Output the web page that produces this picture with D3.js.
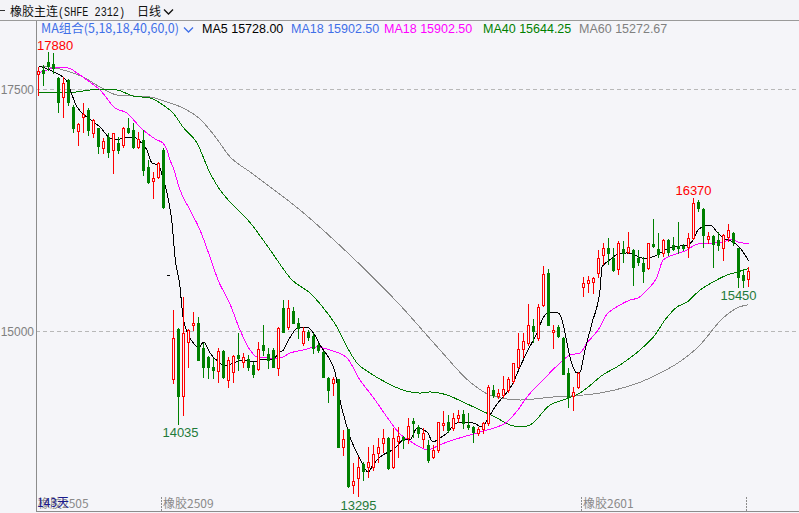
<!DOCTYPE html>
<html><head><meta charset="utf-8">
<script src="https://cdn.jsdelivr.net/npm/d3@7/dist/d3.min.js"></script>
<style>html,body{margin:0;padding:0;background:#f5f5f9;}svg{display:block;}</style>
</head><body><div id="chart"></div>
<script>
// ---- DATA ----
const opens = [17652,17696,17782,17758,17611,17414,17593,17317,17069,17214,17283,17049,17094,16887,17001,16870,16945,16921,17094,17076,
16904,16973,16697,16553,16594,16870,15580,14501,15021,14331,14883,15062,15086,14821,14731,14625,14590,14796,14489,14580,
14752,14683,14707,14649,14604,14856,14762,14804,14617,15237,15041,15210,15083,14873,14993,14948,14855,14786,14518,14466,
14501,13805,13984,13409,13478,13626,13592,13598,13743,13846,13891,13592,13867,13902,13891,14073,14011,13881,13822,13695,
13770,14029,14063,13995,14098,14139,14029,14011,13949,13984,14046,14390,14333,14344,14390,14483,14625,14811,14879,15052,
14924,15269,15602,14993,15038,14924,14563,14332,14425,15451,15493,15510,15596,15785,15854,15751,15637,15844,15819,15837,
15751,15706,15648,15899,15844,15803,15940,15885,15878,15878,15871,15958,16336,16257,15947,15981,15940,15854,15974,16016,
15854,15578,15534];
const highs = [17730,17748,17880,17869,17624,17627,17603,17335,17149,17352,17301,17190,17097,16991,17042,17049,17007,17104,17197,17149,
17056,17076,16766,16646,16749,16887,15580,15217,15028,15354,15021,15199,15148,14873,14742,14718,14821,14804,14734,14752,
14976,14769,14752,14683,14889,15062,14824,14824,15044,15320,15320,15251,15134,15044,15010,14976,14873,14793,14525,14528,
14509,13977,13987,13633,13702,13650,13805,13822,13891,13984,13908,13995,14011,13915,14098,14098,14029,13995,13874,13822,
14063,14170,14132,14150,14184,14184,14150,14018,14011,14060,14442,14442,14397,14535,14528,14673,14982,14982,15279,15121,
15279,15671,15637,15062,15062,14933,14618,14425,14579,15561,15568,15558,15837,15912,15958,15854,15930,15933,16026,15844,
15837,15768,15912,16154,16016,15947,15947,15974,16129,15899,16009,16370,16353,16267,16026,15992,16023,16002,16105,16026,
15860,15637,15658];
const lows = [17438,17541,17696,17662,17265,17214,17335,17059,16921,17059,17025,17007,16836,16836,16801,16629,16836,16904,17042,16887,
16890,16612,16526,16371,16577,16267,15580,14460,14035,14132,14625,15010,14700,14528,14511,14511,14476,14511,14421,14476,
14597,14631,14597,14522,14597,14752,14617,14623,14545,14985,15021,15079,14928,14855,14907,14769,14786,14522,14270,14339,
13802,13719,13393,13323,13295,13461,13495,13564,13650,13753,13579,13581,13702,13788,13846,13908,13908,13805,13650,13685,
13753,13977,13960,13977,14063,13995,13984,13856,13926,13943,14029,14322,14305,14322,14373,14460,14615,14734,14855,14889,
14907,15258,15057,14821,14935,14551,14215,14184,14408,15361,15406,15396,15561,15692,15692,15625,15589,15716,15803,15475,
15682,15509,15640,15865,15761,15775,15785,15837,15809,15837,15761,15947,16243,15871,15906,15664,15837,15733,15933,15888,
15450,15455,15465];
const closes = [17686,17665,17738,17714,17369,17559,17369,17094,17138,17242,17076,17180,16911,16963,16852,17042,16870,17094,17059,16901,
16980,16663,16542,16577,16732,16284,15580,14924,14331,14976,15010,15086,14700,14631,14631,14597,14796,14528,14700,14745,
14718,14728,14631,14556,14811,14804,14700,14628,15031,14990,15237,15086,15031,15003,14941,14821,14804,14528,14390,14501,
13805,13881,13399,13450,13598,13557,13650,13729,13805,13891,13581,13891,13915,13874,14018,14046,13943,13943,13667,13770,
14056,14046,13977,14098,14132,14046,14005,13960,13984,14046,14425,14339,14362,14401,14501,14666,14811,14900,15062,15003,
15251,15589,15062,15010,14948,14556,14321,14373,14563,15493,15527,15550,15751,15854,15803,15630,15906,15803,15871,15664,
15716,15623,15906,15878,15795,15942,15819,15850,15854,15857,15958,16319,16267,15992,15981,15899,15888,15992,16043,15923,
15555,15527,15620];

// moving averages: [candle index, value]
const ma5 = [[0,17738],[3.5,17665],[5.5,17593],[6.5,17469],[7.5,17335],[8.5,17262],[10.5,17180],[12.5,17097],[14,17004],[15.5,16973],
[17,16994],[19,17004],[20,16973],[21.7,16870],[22.7,16735],[24,16715],[25,16560],[26,16353],[26.7,16116],[27.3,15764],[28.3,15454],
[28.9,15144],[30,14958],[31.3,14855],[32,14824],[33,14886],[34.3,14772],[36,14680],[37.3,14638],[39,14669],[41,14700],[43,14680],
[45,14710],[47,14710],[48,14772],[49,14804],[50,14907],[51,14990],[52,15041],[53.7,15041],[55,14979],[56.3,14855],[58.3,14700],
[59.3,14576],[60.3,14287],[61.3,14080],[62.3,13905],[63.7,13740],[64.9,13615],[65.9,13543],[66.9,13615],[67.9,13677],[68.9,13719],
[70.7,13770],[71.9,13822],[72.9,13874],[74.3,13874],[75.7,13998],[77.7,13957],[78.9,13853],[80.3,13895],[81.7,13946],[83.7,14050],
[84.9,14050],[86.9,14050],[88.7,14008],[89.7,14080],[91.7,14246],[92.9,14318],[94.7,14442],[96.3,14628],[97.9,14804],[99.7,14979],
[100.9,15134],[101.9,15186],[103.9,15186],[104.7,15114],[105.3,14979],[106.3,14731],[107.7,14566],[108.3,14576],[109.3,14804],
[110.7,15083],[112.3,15423],[112.7,15661],[113.7,15713],[114.7,15754],[115.9,15795],[117.7,15806],[119.3,15785],[120.7,15754],
[121.9,15754],[123.7,15785],[125.3,15837],[126.7,15868],[128.3,15878],[129.9,15888],[130.9,15940],[131.9,16043],[133.3,16085],
[134.3,16095],[135.7,16023],[136.9,15961],[137.9,15940],[138.9,15920],[140.3,15858],[142,15728]];
const ma18 = [[0,17665],[1.7,17696],[2.9,17717],[5.9,17717],[7.7,17665],[9.7,17593],[12.3,17490],[15.3,17304],[17.7,17252],[20.3,17107],
[23.7,16973],[24.9,16942],[25.7,16870],[26.3,16766],[26.9,16694],[28.3,16457],[30.3,16250],[32.3,16043],[34.3,15764],[35.9,15527],
[38.3,15279],[40.3,15010],[42.3,14804],[43.7,14731],[46.3,14721],[48.3,14721],[50.3,14772],[52.9,14804],[55.7,14835],[58.3,14804],
[61.7,14721],[64.3,14494],[66.9,14318],[69.7,14111],[72.3,13936],[74.3,13863],[76.3,13801],[77.7,13770],[78.9,13791],[81.7,13853],
[84.9,13905],[87.7,13946],[89.7,13977],[91.7,14008],[93.7,14060],[95.7,14173],[97.7,14318],[100.9,14494],[104.3,14669],[106.3,14752],
[108.3,14772],[109.7,14876],[112.3,15041],[113.3,15144],[116.3,15268],[118.3,15320],[119.9,15341],[121.7,15423],[123.7,15558],
[124.9,15733],[126.9,15785],[129.7,15837],[131.3,15888],[132.9,15909],[134.9,15909],[136.9,15920],[138.7,15950],[139.9,15920],[142,15902.5]];
const ma40 = [[0,17459],[3,17459],[5.7,17459],[8.9,17479],[12.3,17500],[15.7,17490],[18.9,17428],[22.3,17407],[24.9,17335],[26.9,17252],
[28.9,17107],[31.7,16942],[34.3,16632],[36.3,16457],[38.3,16333],[42.3,16120],[46.3,15840],[50.7,15527],[54.3,15392],[57.7,15190],
[59.7,15041],[61.7,14835],[63.7,14669],[66.3,14566],[69.7,14463],[72.9,14390],[76.3,14359],[78.3,14370],[81.7,14339],[84.9,14266],
[88.3,14184],[91.7,14101],[94.3,14029],[96.3,14008],[98.3,14029],[102.3,14235],[104.9,14287],[108.3,14359],[110.9,14463],[112.3,14525],
[116.3,14649],[120.3,14804],[123.3,14959],[125.3,15114],[127.7,15248],[129.7,15299],[132.3,15423],[134.9,15506],[137.7,15578],
[139.7,15609],[142,15644.25]];
const ma60 = [[0,17738],[2.3,17727],[5.7,17686],[8.9,17624],[12.3,17521],[15.7,17438],[18.9,17428],[22.3,17417],[25.7,17366],[28.9,17304],
[32.3,17190],[35.3,17010],[38.3,16800],[42.3,16643],[52.3,16250],[62.3,15785],[72.3,15268],[80.3,14804],[86.3,14473],[90.3,14339],
[96.3,14287],[102.9,14318],[106.3,14328],[112.3,14359],[122.3,14514],[132.3,14855],[136.9,15134],[139.7,15238],[142,15272.67]];

const yTickVals = [15000, 17500];
const xTickIdx = [0, 25, 109, 142];
const xTickLabels = ["橡胶2505", "橡胶2509", "橡胶2601", ""];
const legendItems = [
  {t:"MA5 15728.00", c:"#000000"},
  {t:"MA18 15902.50", c:"#3f6fe8"},
  {t:"MA18 15902.50", c:"#ff00ff"},
  {t:"MA40 15644.25", c:"#008000"},
  {t:"MA60 15272.67", c:"#808080"}
];

// ---- CHART ----
const W = 799, H = 513;
const BG = "#f5f5f9";
const svg = d3.select("#chart").append("svg").attr("width", W).attr("height", H)
  .style("background", BG).style("font-family", "'Liberation Sans', Arial, sans-serif");

const x = d3.scaleLinear().domain([0, 142]).range([38.5, 748.5]);
const y = d3.scaleLinear().domain([15000, 17500]).range([331, 89]);
const col = i => Math.floor(x(i));
const py = v => Math.round(y(v));

// header
svg.append("rect").attr("x",0).attr("y",0).attr("width",W).attr("height",20).attr("fill","#f3f3f7");
svg.append("line").attr("x1",0).attr("x2",W).attr("y1",20.5).attr("y2",20.5).attr("stroke","#9a9a9a");
svg.append("line").attr("x1",0).attr("x2",5).attr("y1",10.5).attr("y2",10.5).attr("stroke","#333");
svg.append("text").attr("x",10).attr("y",15.5).attr("fill","#111")
  .style("font-family","'Noto Sans CJK SC', sans-serif").style("font-size","12px").text("橡胶主连");
svg.append("text").attr("x",58).attr("y",15.5).attr("fill","#111")
  .attr("textLength",67).attr("lengthAdjust","spacingAndGlyphs")
  .style("font-family","'Liberation Mono', 'DejaVu Sans Mono', monospace").style("font-size","12px").text("(SHFE 2312)");
svg.append("text").attr("x",137).attr("y",15.5).attr("font-size",12).attr("fill","#111")
  .style("font-family","'Noto Sans CJK SC', sans-serif").text("日线");
svg.append("path").attr("d","M164,9.5 L168.5,14 L173,9.5").attr("fill","none").attr("stroke","#111").attr("stroke-width",1.3);

// legend
const leg = svg.append("g").style("font-size","12.5px");
leg.append("text").attr("x",41).attr("y",33).attr("fill","#3f6fe8")
  .style("font-family","'Noto Sans CJK SC', 'Liberation Sans', sans-serif").style("font-size","12.5px").text("MA组合(5,18,18,40,60,0)");
leg.append("path").attr("d","M184,27.5 L188.5,32 L193,27.5").attr("fill","none").attr("stroke","#3f6fe8").attr("stroke-width",1.3);
const legX = [202, 291, 384, 483, 579];
legendItems.forEach((d,k) => {
  leg.append("text").attr("x",legX[k]).attr("y",33).attr("fill",d.c).text(d.t);
});

// grid lines
yTickVals.forEach(v => {
  svg.append("line").attr("x1",36).attr("x2",W).attr("y1",py(v)+0.5).attr("y2",py(v)+0.5)
    .attr("stroke","#b8b8b8").attr("stroke-dasharray","4,3");
  svg.append("text").attr("x",34).attr("y",py(v)+5).attr("text-anchor","end")
    .attr("font-size",12).attr("fill","#808080").text(v);
});

// axes
svg.append("line").attr("x1",36.5).attr("x2",36.5).attr("y1",21).attr("y2",511).attr("stroke","#8c8c8c");
svg.append("line").attr("x1",36).attr("x2",W).attr("y1",511.5).attr("y2",511.5).attr("stroke","#8c8c8c");

// x tick labels
xTickIdx.forEach((idx,k) => {
  const tx = idx === 0 ? 36 : col(idx) - 2;
  if (idx !== 0) svg.append("line").attr("x1",tx+0.5).attr("x2",tx+0.5).attr("y1",497).attr("y2",511)
    .attr("stroke","#8c8c8c").attr("stroke-dasharray","2,1");
  if (xTickLabels[k]) svg.append("text").attr("x",tx+2).attr("y",508).attr("font-size",12).attr("fill","#8a8a8a")
    .style("font-family","'Noto Sans CJK SC', sans-serif").text(xTickLabels[k]);
});
svg.append("text").attr("x",37).attr("y",507).attr("font-size",12).attr("fill","#1a1a8c")
  .style("font-family","'Noto Sans CJK SC', sans-serif").text(opens.length + "天");

// moving average lines
const lineGen = d3.line().x(d => x(d[0])).y(d => y(d[1])).curve(d3.curveMonotoneX);
[[ma60,"#8a8a8a"],[ma40,"#007a00"],[ma18,"#ff00ff"],[ma5,"#000000"]].forEach(([data,c]) => {
  svg.append("path").datum(data).attr("d",lineGen).attr("fill","none").attr("stroke",c).attr("stroke-width",1)
    .attr("shape-rendering","crispEdges");
});

// candles
const RED = "#ff0000", GREEN = "#008000";
const g = svg.append("g").attr("shape-rendering","crispEdges");
opens.forEach((o,i) => {
  const h = highs[i], l = lows[i], c = closes[i];
  const cx = col(i);
  if (o === c && h === l) {
    g.append("line").attr("x1",cx-1).attr("x2",cx+2).attr("y1",py(o)+0.5).attr("y2",py(o)+0.5).attr("stroke","#000");
    return;
  }
  const up = c >= o;
  const color = up ? RED : GREEN;
  g.append("line").attr("x1",cx+0.5).attr("x2",cx+0.5).attr("y1",py(h)).attr("y2",py(l)+1).attr("stroke",color);
  const top = py(Math.max(o,c)), bot = py(Math.min(o,c));
  if (up) {
    g.append("rect").attr("x",cx-0.5).attr("y",top+0.5).attr("width",2).attr("height",Math.max(bot-top,1))
      .attr("fill",BG).attr("stroke",RED).attr("stroke-width",1);
  } else {
    g.append("rect").attr("x",cx-1).attr("y",top).attr("width",3).attr("height",Math.max(bot-top+1,1)).attr("fill",GREEN);
  }
});

// extreme labels
const hiIdx = d3.maxIndex(highs), loIdx = d3.minIndex(lows);
const lab = (txt, xx, yy, c, anchor) => svg.append("text").attr("x",xx).attr("y",yy).attr("font-size",13)
  .attr("fill",c).attr("text-anchor",anchor).text(txt);
lab(highs[hiIdx], 37, 50, "#ff0000", "start");
lab(lows[loIdx], x(loIdx), 510, "#1f7a3a", "middle");
// local extremes
const locHi = 131, locLo1 = 28, locLo2 = 140;
lab(highs[locHi], x(locHi), 195, "#ff0000", "middle");
lab(lows[locLo1], x(locLo1)+2, 437, "#1f7a3a", "middle");
lab(lows[locLo2], x(locLo2), 300, "#1f7a3a", "middle");
</script></body></html>
